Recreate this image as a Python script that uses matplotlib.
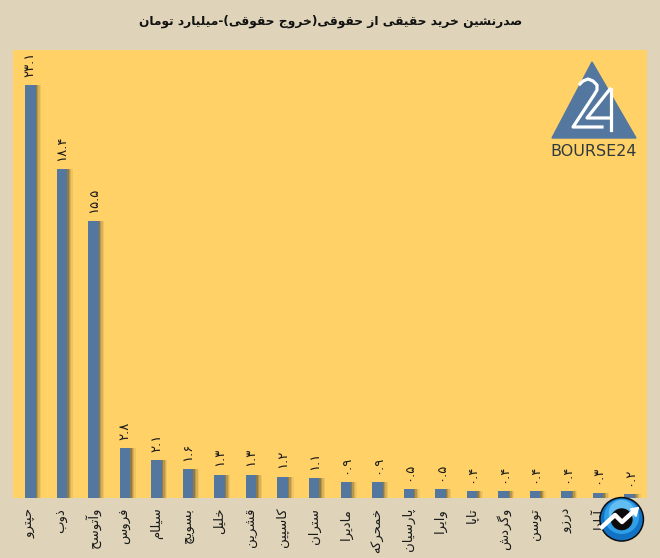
import matplotlib
matplotlib.use("Agg")
import matplotlib.pyplot as plt
from matplotlib.patches import Polygon, Circle

# values
names = ["حپترو", "ذوب", "وآتوسح", "فروس", "سیلام", "بسویچ", "خلیل", "قشرین", "کاسپین", "ستران",
         "مادیرا", "خمحرکه", "پارسیان", "وایرا", "تاپا", "وگردش", "توسن", "درزو", "آبادا", "کاوه"]
values = [23.1, 18.4, 15.5, 2.8, 2.1, 1.6, 1.3, 1.3, 1.2, 1.1,
          0.9, 0.9, 0.5, 0.5, 0.4, 0.4, 0.4, 0.4, 0.3, 0.2]
title = "صدرنشین خرید حقیقی از حقوقی(خروج حقوقی)-میلیارد تومان"

# matplotlib does no arabic shaping, so it is done here by hand
# letter : isolated, final, initial, medial
forms = {
    "ا": (0xFE8D, 0xFE8E), "آ": (0xFE81, 0xFE82), "د": (0xFEA9, 0xFEAA), "ذ": (0xFEAB, 0xFEAC),
    "ر": (0xFEAD, 0xFEAE), "ز": (0xFEAF, 0xFEB0), "ژ": (0xFB8A, 0xFB8B), "و": (0xFEED, 0xFEEE),
    "ب": (0xFE8F, 0xFE90, 0xFE91, 0xFE92), "پ": (0xFB56, 0xFB57, 0xFB58, 0xFB59),
    "ت": (0xFE95, 0xFE96, 0xFE97, 0xFE98), "ج": (0xFE9D, 0xFE9E, 0xFE9F, 0xFEA0),
    "چ": (0xFB7A, 0xFB7B, 0xFB7C, 0xFB7D), "ح": (0xFEA1, 0xFEA2, 0xFEA3, 0xFEA4),
    "خ": (0xFEA5, 0xFEA6, 0xFEA7, 0xFEA8), "س": (0xFEB1, 0xFEB2, 0xFEB3, 0xFEB4),
    "ش": (0xFEB5, 0xFEB6, 0xFEB7, 0xFEB8), "ص": (0xFEB9, 0xFEBA, 0xFEBB, 0xFEBC),
    "ف": (0xFED1, 0xFED2, 0xFED3, 0xFED4), "ق": (0xFED5, 0xFED6, 0xFED7, 0xFED8),
    "ک": (0xFB8E, 0xFB8F, 0xFB90, 0xFB91), "گ": (0xFB92, 0xFB93, 0xFB94, 0xFB95),
    "ل": (0xFEDD, 0xFEDE, 0xFEDF, 0xFEE0), "م": (0xFEE1, 0xFEE2, 0xFEE3, 0xFEE4),
    "ن": (0xFEE5, 0xFEE6, 0xFEE7, 0xFEE8), "ه": (0xFEE9, 0xFEEA, 0xFEEB, 0xFEEC),
    "ی": (0xFBFC, 0xFBFD, 0xFBFE, 0xFBFF),
}
mirror = {"(": ")", ")": "("}

def shape(s):
    out = []
    for i, c in enumerate(s):
        if c not in forms:
            out.append(mirror.get(c, c))
            continue
        f = forms[c]
        prev = s[i-1] if i > 0 else ""
        nxt = s[i+1] if i < len(s)-1 else ""
        join_prev = prev in forms and len(forms[prev]) == 4
        join_next = nxt in forms and len(f) == 4
        if join_prev and join_next:
            out.append(chr(f[3]))
        elif join_prev:
            out.append(chr(f[1]))
        elif join_next:
            out.append(chr(f[2]))
        else:
            out.append(chr(f[0]))
    return "".join(out[::-1])

def fa_num(v):
    return ("%.1f" % v).translate(str.maketrans("0123456789", "۰۱۲۳۴۵۶۷۸۹"))

W, H = 660, 558
BG = "#dfd4b9"
fig = plt.figure(figsize=(W/100, H/100), dpi=100, facecolor=BG)
ax = fig.add_axes([13/W, 1-498/H, 634/W, 448/H], facecolor="#ffd166")

x = list(range(len(values)))
# soft shadow first, then the bars
for k, a in ((1, .45), (2, .30), (3, .18), (4, .10)):
    ax.bar([i + k*0.045 for i in x], values, width=0.33, color="#6b5a35", alpha=a, zorder=2)
ax.bar(x, values, width=0.33, color="#54779f", zorder=3)
for i, v in zip(x, values):
    ax.annotate(fa_num(v), (i, v), xytext=(0, 6), textcoords="offset points", rotation=90,
                ha="center", va="bottom", fontsize=9.5, color="#1a1a1a", annotation_clip=False)

ax.set_xlim(-0.55, len(values)-0.45)
ax.set_ylim(0, 25.06)
ax.set_yticks([])
ax.set_xticks(x)
ax.set_xticklabels([shape(n) for n in names], rotation=90, fontsize=9.5, color="#1a1a1a")
ax.tick_params(axis="x", length=0, pad=7)
for s in ax.spines.values():
    s.set_visible(False)

fig.text(331/W, 1-21/H, shape(title), ha="center", va="center", fontsize=8.8, fontweight="bold", color="#111111")

# overlay in pixel coordinates for the two logos
ov = fig.add_axes([0, 0, 1, 1], facecolor="none")
ov.set_xlim(0, W)
ov.set_ylim(H, 0)
ov.axis("off")
ov.add_patch(Polygon([(592, 62), (552, 138), (636, 138)], color="#54779f"))
ov.plot([580, 583, 588, 593, 597, 597, 594, 573, 602], [84, 81, 79, 81, 85, 90, 95, 127, 127], color="white", lw=2.3)
ov.plot([610, 587, 611], [89, 118, 118], color="white", lw=2.3)
ov.plot([611, 611], [89, 130], color="white", lw=2.3)
ov.text(594, 151, "BOURSE24", ha="center", va="center", fontsize=11.5, color="#2f3a40", family="DejaVu Sans")

ov.add_patch(Circle((621.7, 519.3), 22.5, fc="#0b0b0b", ec="none", zorder=5))
ov.add_patch(Circle((621.7, 519.3), 21, fc="#1272c4", ec="none", zorder=6))
ov.add_patch(Circle((621.7, 516.5), 17.5, fc="#2f9fe8", ec="none", zorder=6))
ov.add_patch(Circle((621.7, 513), 13, fc="#62bdf2", ec="none", zorder=6))
ov.add_patch(Circle((621.7, 519.3), 11, fc="#0b0b0b", ec="none", zorder=7))
ov.plot([602, 615, 622, 634], [527, 515, 522, 511], color="white", lw=3.2, zorder=8)
ov.add_patch(Polygon([(630.5, 509), (638.5, 507.5), (636, 516.5)], color="white", zorder=8))

fig.savefig("out.png", dpi=100, facecolor=BG)
